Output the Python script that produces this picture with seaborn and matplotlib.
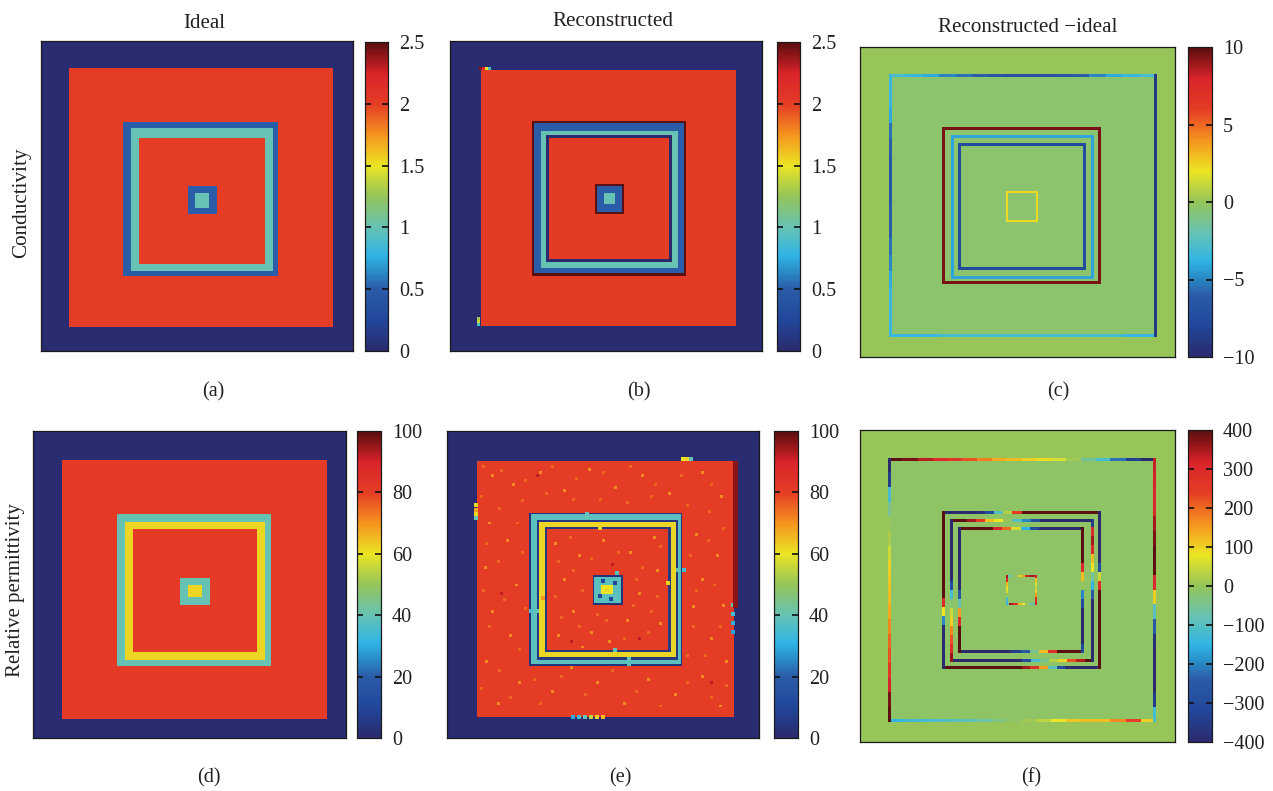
import numpy as np
import matplotlib
matplotlib.use("Agg")
import matplotlib.pyplot as plt
from matplotlib.colors import LinearSegmentedColormap
import seaborn as sns

FIG_W, FIG_H = 1273, 791
UNITS = 208      # ring edges below are read on a 208-unit panel scale
GRID = 312       # heatmap cells per side

# ---- colour scale ----
CMAP_POS = [0.0, 0.1, 0.2, 0.26, 0.31, 0.4, 0.5, 0.6, 0.7, 0.8, 0.9, 0.96, 1.0]
CMAP_COL = ["#2a2a6c", "#21479b", "#2b5ca8", "#2a8fc8", "#30b4e4", "#66c3b4", "#95c45a",
            "#ebe524", "#f6941f", "#e53d25", "#d9232a", "#8c1518", "#5a0f10"]

# ---- (a) ideal conductivity: nested squares, edges (x0, x1, y0, y1), outside to inside ----
A_BG = 0.02
A_EDGES = [(19, 195, 18, 192), (55, 158, 55, 158), (60, 155, 59, 154), (65, 149, 65, 149),
           (98, 117, 97, 116), (103, 112, 102, 112)]
A_VALUES = [2.0, 0.5, 1.0, 2.0, 0.5, 1.0]

# ---- (b) reconstructed conductivity ----
B_BG = 0.02
B_EDGES = [(20.5, 191, 19.5, 191.5), (54.4, 157, 53.7, 157.7), (56, 156, 55.5, 156),
           (60.7, 152, 60.4, 152), (64, 147.8, 63.6, 147.8), (66, 146, 65.6, 146),
           (96.7, 116, 96, 116), (98, 115, 97, 115), (102.7, 110, 102, 109)]
B_VALUES = [2.02, 2.5, 0.5, 1.0, 0.0, 2.02, 2.5, 0.5, 1.0]
B_SPOTS = [(20, 18, 2.4), (22, 18, 2.2), (24, 18, 1.5), (26, 18, 0.9),
           (19, 188, 1.4), (19, 186, 1.3), (19, 190, 0.9)]

# ---- (c) conductivity difference ----
C_BG = 0.0
C_FIELD_EDGES = [(20, 195, 19, 194)]
C_FIELD_VALUES = [-0.4]
C_OUTER = (20, 194.7, 19, 193.5)
C_OUTER_TOP = [-3, -3.5, -4, -5, -5.5, -6, -6.5, -7, -7, -7, -6.5, -6, -5, -4, -3.5, -3]
C_OUTER_RIGHT = [-9, -9, -9, -9, -9, -9, -9, -9, -9, -9, -9, -9, -9, -9, -9, -9]
C_OUTER_BOTTOM = [-3.5, -3.5, -3.5, -3, -3, -3, -3, -3, -3, -3, -3, -3, -3, -3, -3.5, -3.5]
C_OUTER_LEFT = [-3.5, -3.5, -4, -5.5, -6, -6.5, -6.5, -6.5, -6, -6, -5.5, -5, -4, -3.5, -3.5, -3.5]
C_RING2 = (54.9, 157.7, 54.6, 157.9)
C_RING2_VALUE = 9.5
C_RING3 = (60.6, 153.3, 60.2, 153.8)
C_RING3_VALUE = -4.2
C_RING4 = (65.5, 147.8, 65.1, 148)
C_RING4_VALUE = -7.5
C_CENTER = (97.3, 116.4, 97, 116.6)
C_CENTER_VALUE = 2.3

# ---- (d) ideal permittivity ----
D_BG = 1
D_EDGES = [(19.1, 195.3, 19.4, 195.5), (56, 158, 56.3, 159.5), (61.5, 154.3, 61.5, 155.4),
           (66.6, 148.7, 66.7, 149.8), (98.3, 117.2, 99.1, 118), (103.2, 112, 104, 112.8)]
D_VALUES = [81, 40, 62, 81, 40, 62]

# ---- (e) reconstructed permittivity ----
E_BG = 1
E_EDGES = [(20, 191.3, 19.7, 193.9), (54.7, 156.8, 55.1, 159.4), (55.8, 155.7, 56.2, 158.3),
           (60.3, 154.2, 60.1, 155.3), (61.4, 152.6, 61.5, 153.5), (65.2, 149, 65.1, 150.1),
           (66.7, 147.5, 66.9, 148.5), (97, 117, 97.5, 117.9), (98, 116, 98.6, 116.8),
           (103, 111, 104.3, 111)]
E_VALUES = [80, 3, 38, 5, 62, 5, 80, 3, 38, 60]
# spots (x, y, value): rim defects and breaks in the rings
E_DEFECTS = [(19.5, 50, 62), (19.5, 53, 68), (19.5, 56, 62), (19.5, 59, 40), (157, 19, 60), (160, 19, 62),
             (163, 19, 40), (192, 114, 62), (191, 118, 40), (191, 124, 35), (191, 130, 30), (191, 136, 28),
             (84, 194, 30), (88, 194, 35), (92, 194, 40), (96, 194, 55), (100, 194, 62), (104, 194, 65),
             (93, 56, 40), (93, 59, 40), (102, 66, 62), (154, 94, 40), (158, 94, 35), (147.5, 103, 62),
             (60, 122, 40), (56, 122, 35), (64, 113, 70), (112, 148.5, 40), (121, 155, 40), (121, 158, 38),
             (104, 101, 10), (112, 103, 10), (109, 114, 10), (102, 112, 10), (107, 108, 62), (113, 96, 38)]
# mottling of the red field, coarse spots placed by eye
E_SPECKS = [(30, 30), (44, 36), (62, 28), (78, 40), (95, 26), (112, 38), (130, 30), (148, 42), (170, 28), (183, 44),
            (28, 62), (40, 74), (25, 92), (46, 104), (30, 122), (42, 138), (26, 156), (48, 170), (34, 184),
            (70, 176), (83, 160), (100, 170), (118, 184), (134, 168), (152, 178), (170, 166), (182, 186),
            (166, 70), (180, 84), (170, 100), (184, 118), (164, 119), (176, 140), (186, 156),
            (72, 76), (88, 84), (104, 74), (122, 82), (138, 72), (78, 100), (84, 122), (74, 138), (96, 136),
            (120, 128), (128, 110), (140, 94), (142, 130), (108, 142), (90, 146)]
E_SPECK_VALUE = 71
E_FAINT_SPECKS = [(24, 24), (36, 27), (52, 33), (70, 24), (86, 32), (104, 28), (122, 24), (139, 36), (156, 30), (176, 36),
                  (23, 44), (35, 52), (50, 47), (66, 42), (84, 46), (102, 46), (120, 48), (136, 44), (160, 50), (175, 54),
                  (26, 76), (47, 62), (34, 88), (50, 82), (24, 108), (38, 114), (52, 120), (28, 132), (48, 148), (35, 162),
                  (23, 174), (42, 180), (58, 168), (62, 184), (76, 166), (92, 178), (110, 162), (126, 176), (142, 186),
                  (160, 170), (176, 180), (186, 172), (162, 84), (174, 74), (184, 66), (166, 108), (178, 104), (164, 132),
                  (182, 132), (172, 152), (160, 152), (74, 88), (82, 72), (96, 86), (114, 82), (130, 92), (142, 78),
                  (72, 112), (90, 108), (76, 126), (88, 132), (106, 128), (124, 118), (134, 136), (140, 112), (118, 140),
                  (100, 124), (84, 94), (126, 100), (136, 122)]
E_FAINT_VALUE = 75
E_DARK_SPECKS = [(83, 142), (110, 90), (60, 30), (36, 110), (176, 170), (128, 140)]
E_DARK_VALUE = 92

# ---- (f) permittivity difference: values along each side ----
F_BG = 0
F_FIELD_EDGES = [(20, 195, 20, 194)]
F_FIELD_VALUES = [-12]
F_OUTER = (19.5, 194, 19.5, 193)
F_OUTER_TOP = [400, 380, 340, 300, 260, 220, 180, 140, 120, 100, 90, 60, 10, -60, -120, -220, -340, -400]
F_OUTER_RIGHT = [330, 320, 300, 300, 350, 380, 400, 400, 300, 100, -100, -250, -380, -400, -400, -400, -350, -120]
F_OUTER_BOTTOM = [-150, -130, -120, -110, -100, -90, -70, -40, -10, 10, 40, 80, 110, 120, 120, 170, 240, 100]
F_OUTER_LEFT = [-400, -350, -120, -50, 0, 20, 50, 100, 110, 120, 140, 170, 200, 220, 260, 320, 380, 400]
F_RING2 = (54.6, 158, 54.4, 158)
F_RING2_TOP = [-400, -400, -400, -400, -380, -300, -100, 30, 250, 400, 400, 400, 400, 400, 400, 400, 400, 400]
F_RING2_RIGHT = [-400, -400, -400, -400, -400, -400, -300, 50, 300, 400, 400, 400, 400, 400, 400, 400, 400, 400]
F_RING2_BOTTOM = [400, 400, 400, 400, 400, 400, 400, 400, 400, 350, 280, 150, -100, -300, -400, -400, -400, -400]
F_RING2_LEFT = [400, 400, 400, 400, 400, 400, 400, 400, 400, 400, 300, 80, -200, -400, -400, -400, -400, -400]
F_RING3 = (60, 153, 60, 153)
F_RING3_TOP = [400, 400, 350, 250, 120, 80, 0, -100, -200, -300, -400, -400, -400, -400, -400, -400]
F_RING3_RIGHT = [-350, 300, 350, 300, 120, 80, -60, -150, -250, -400, -400, -400, -400, -400, -400, -400]
F_RING3_BOTTOM = [-400, -400, -400, -400, -400, -400, -400, -400, -300, -120, -50, 30, 100, 220, 340, 400]
F_RING3_LEFT = [-400, -400, -400, -400, -400, -400, -400, -300, -120, -20, 50, 100, 170, 220, 280, 360]
F_RING4 = (65, 147, 65, 147.5)
F_RING4_TOP = [400, 400, 400, 400, 320, 200, 60, -150, -300, -400, -400, -400, -400, -400]
F_RING4_RIGHT = [400, 400, 400, 400, 300, 120, 0, -200, -300, -400, -400, -400, -400, -300]
F_RING4_BOTTOM = [-400, -400, -400, -400, -400, -400, -350, -250, -50, 120, 280, 400, 400, 400]
F_RING4_LEFT = [-400, -400, -400, -400, -400, -400, -400, -250, -80, 150, 300, 400, 400, 400]
F_CENTER = (97, 116, 97, 116)
F_CENTER_TOP = [-100, -80, 0, 100, 150, 320, 350, 350]
F_CENTER_RIGHT = [320, 120, 60, 40, 100, 150, 300, 320]
F_CENTER_BOTTOM = [-100, 350, 300, 120, 80, 0, -80, -100]
F_CENTER_LEFT = [350, 300, 120, 90, 60, 0, -120, -150]

# ---- axes scales and text ----
COND_TICKS = [0, 0.5, 1, 1.5, 2, 2.5]
COND_LABELS = ["0", "0.5", "1", "1.5", "2", "2.5"]
COND_DIFF_TICKS = [-10, -5, 0, 5, 10]
COND_DIFF_LABELS = ["\u221210", "\u22125", "0", "5", "10"]
PERM_TICKS = [0, 20, 40, 60, 80, 100]
PERM_LABELS = ["0", "20", "40", "60", "80", "100"]
PERM_DIFF_TICKS = [-400, -300, -200, -100, 0, 100, 200, 300, 400]
PERM_DIFF_LABELS = ["\u2212400", "\u2212300", "\u2212200", "\u2212100", "0", "100", "200", "300", "400"]
TITLES = ["Ideal", "Reconstructed", "Reconstructed \u2212ideal"]
ROW_LABELS = ["Conductivity", "Relative permittivity"]
PANEL_TAGS = ["(a)", "(b)", "(c)", "(d)", "(e)", "(f)"]


def cell(v):
    return int(round(v * GRID / UNITS))


def nested(bg, edges, values):
    field = np.full((GRID, GRID), float(bg))
    for (x0, x1, y0, y1), v in zip(edges, values):
        field[cell(y0):cell(y1), cell(x0):cell(x1)] = v
    return field


def paint_ring(field, box, top, right, bottom, left, width=3):
    x0, x1, y0, y1 = [cell(v) for v in box]
    lo = width // 2
    hi = width - lo
    for vals, idx, horizontal in ((top, y0, True), (bottom, y1, True), (left, x0, False), (right, x1, False)):
        a, b = (x0 - lo, x1 + hi) if horizontal else (y0 - lo, y1 + hi)
        for i, v in enumerate(vals):
            s = a + (b - a) * i // len(vals)
            e = a + (b - a) * (i + 1) // len(vals)
            if horizontal:
                field[idx - lo:idx + hi, s:e] = v
            else:
                field[s:e, idx - lo:idx + hi] = v


def spots(field, pts, value=None, size=2):
    for p in pts:
        x, y = cell(p[0]), cell(p[1])
        v = value if value is not None else p[2]
        field[y - size // 2:y + size - size // 2, x - size // 2:x + size - size // 2] = v


field_a = nested(A_BG, A_EDGES, A_VALUES)

field_b = nested(B_BG, B_EDGES, B_VALUES)
spots(field_b, B_SPOTS, size=3)

field_c = nested(C_BG, C_FIELD_EDGES, C_FIELD_VALUES)
paint_ring(field_c, C_OUTER, C_OUTER_TOP, C_OUTER_RIGHT, C_OUTER_BOTTOM, C_OUTER_LEFT)
for box, v in ((C_RING2, C_RING2_VALUE), (C_RING3, C_RING3_VALUE), (C_RING4, C_RING4_VALUE)):
    paint_ring(field_c, box, [v], [v], [v], [v])
paint_ring(field_c, C_CENTER, [C_CENTER_VALUE], [C_CENTER_VALUE], [C_CENTER_VALUE], [C_CENTER_VALUE], width=2)

field_d = nested(D_BG, D_EDGES, D_VALUES)

field_e = nested(E_BG, E_EDGES, E_VALUES)
spots(field_e, E_FAINT_SPECKS, value=E_FAINT_VALUE, size=3)
spots(field_e, E_SPECKS, value=E_SPECK_VALUE, size=3)
spots(field_e, E_DARK_SPECKS, value=E_DARK_VALUE, size=3)
spots(field_e, E_DEFECTS, size=4)
field_e[cell(20):cell(120), cell(191):cell(194)] = 96

field_f = nested(F_BG, F_FIELD_EDGES, F_FIELD_VALUES)
paint_ring(field_f, F_OUTER, F_OUTER_TOP, F_OUTER_RIGHT, F_OUTER_BOTTOM, F_OUTER_LEFT)
paint_ring(field_f, F_RING2, F_RING2_TOP, F_RING2_RIGHT, F_RING2_BOTTOM, F_RING2_LEFT)
paint_ring(field_f, F_RING3, F_RING3_TOP, F_RING3_RIGHT, F_RING3_BOTTOM, F_RING3_LEFT)
paint_ring(field_f, F_RING4, F_RING4_TOP, F_RING4_RIGHT, F_RING4_BOTTOM, F_RING4_LEFT)
paint_ring(field_f, F_CENTER, F_CENTER_TOP, F_CENTER_RIGHT, F_CENTER_BOTTOM, F_CENTER_LEFT, width=2)

sns.set_theme(style="white")
plt.rcParams["font.family"] = ["Liberation Serif", "DejaVu Serif"]
cmap = LinearSegmentedColormap.from_list("muted_jet", list(zip(CMAP_POS, CMAP_COL)), N=256)

fig = plt.figure(figsize=(FIG_W / 100, FIG_H / 100), dpi=100, facecolor="white")


def px_axes(x0, x1, y0, y1):
    return fig.add_axes([x0 / FIG_W, 1 - y1 / FIG_H, (x1 - x0) / FIG_W, (y1 - y0) / FIG_H])


def px_text(x, y, s, **kw):
    fig.text(x / FIG_W, 1 - y / FIG_H, s, ha="center", va="center", color="#231f20", **kw)


panels = [
    (field_a, 0, 2.5, COND_TICKS, COND_LABELS, (41, 353, 41, 351), (365, 388, 42, 351)),
    (field_b, 0, 2.5, COND_TICKS, COND_LABELS, (450, 762, 41, 351), (777, 800, 42, 351)),
    (field_c, -10, 10, COND_DIFF_TICKS, COND_DIFF_LABELS, (860, 1175, 47, 357), (1188, 1212, 47, 357)),
    (field_d, 0, 100, PERM_TICKS, PERM_LABELS, (33, 346, 431, 738), (357, 381, 431, 738)),
    (field_e, 0, 100, PERM_TICKS, PERM_LABELS, (447, 759, 431, 738), (774, 798, 431, 738)),
    (field_f, -400, 400, PERM_DIFF_TICKS, PERM_DIFF_LABELS, (860, 1175, 430, 742), (1188, 1212, 430, 742)),
]

for field, vmin, vmax, ticks, labels, box, cbox in panels:
    ax = px_axes(*box)
    cax = px_axes(*cbox)
    sns.heatmap(field, ax=ax, cbar_ax=cax, cmap=cmap, vmin=vmin, vmax=vmax, square=False,
                xticklabels=False, yticklabels=False, rasterized=True,
                cbar_kws={"ticks": ticks})
    for sp in ax.spines.values():
        sp.set_visible(True)
        sp.set_linewidth(0.9)
        sp.set_color("#1a1a1a")
    cax.set_yticks(ticks)
    cax.set_yticklabels(labels)
    cax.set_axisbelow(False)
    cax.tick_params(axis="y", direction="in", left=True, right=True, length=4, width=1.2,
                    color="#111111", labelsize=14.5, labelcolor="#231f20", pad=8)
    major = cax.yaxis.get_major_ticks()
    for tick in (major[0], major[-1]):
        tick.tick1line.set_visible(False)
        tick.tick2line.set_visible(False)
    for sp in cax.spines.values():
        sp.set_visible(True)
        sp.set_linewidth(0.8)
        sp.set_color("#1a1a1a")

px_text(204, 24, TITLES[0], fontsize=15)
px_text(613, 21, TITLES[1], fontsize=15.2)
px_text(1028, 27, TITLES[2], fontsize=15.2)
px_text(22, 203, ROW_LABELS[0], fontsize=15.2, rotation=90)
px_text(16, 590, ROW_LABELS[1], fontsize=15, rotation=90)
for tag, (x, y) in zip(PANEL_TAGS, [(213, 392), (639, 392), (1058, 392), (209, 778), (620, 778), (1031, 778)]):
    px_text(x, y, tag, fontsize=14.5)

fig.savefig("out.png", dpi=100, facecolor="white")
